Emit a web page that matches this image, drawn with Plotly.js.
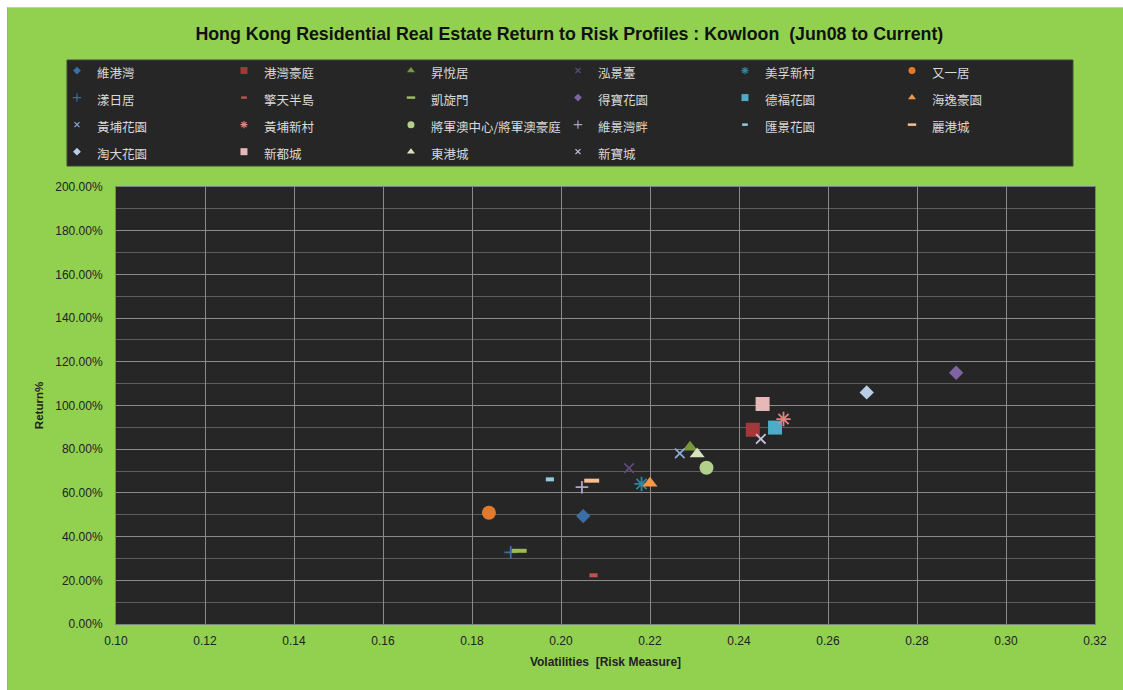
<!DOCTYPE html>
<html>
<head>
<meta charset="utf-8">
<script src="https://cdn.plot.ly/plotly-3.0.1.min.js"></script>
<style>
  html, body { margin: 0; padding: 0; background: #ffffff; }
  #wrap { position: absolute; left: 7px; top: 7px; width: 1116px; height: 683px;
          border-left: 1px solid #a6a6a6; border-top: 1px solid #c8c8c8; }
  #chart { width: 1116px; height: 683px; }
</style>
</head>
<body>
<div id="wrap"><div id="chart"></div></div>
<script>
// ---- data ----
var estates = ["維港灣","港灣豪庭","昇悅居","泓景臺","美孚新村","又一居",
               "漾日居","擎天半島","凱旋門","得寶花園","德福花園","海逸豪園",
               "黃埔花園","黃埔新村","將軍澳中心/將軍澳豪庭","維景灣畔","匯景花園","麗港城",
               "淘大花園","新都城","東港城","新寶城"];
var volatility = [0.2050,0.2431,0.2290,0.2153,0.2181,0.1838,
                  0.1887,0.2073,0.1906,0.2888,0.2481,0.2200,
                  0.2267,0.2500,0.2327,0.2047,0.1975,0.2069,
                  0.2687,0.2453,0.2306,0.2449];
var returns = [0.494,0.889,0.809,0.713,0.641,0.509,
               0.328,0.223,0.335,1.150,0.899,0.644,
               0.781,0.938,0.715,0.626,0.662,0.656,
               1.060,1.007,0.778,0.847];
var xTicks = [0.10,0.12,0.14,0.16,0.18,0.20,0.22,0.24,0.26,0.28,0.30,0.32];
var yTicks = [0,0.2,0.4,0.6,0.8,1.0,1.2,1.4,1.6,1.8,2.0];

// ---- styles ----
var colors = ["#3b6ea5","#a5373a","#77983c","#604a7b","#31859c","#e07a2c",
              "#3b6ea5","#c0504d","#9bbb59","#8064a2","#4bacc6","#f79646",
              "#8da9db","#e0827e","#b3d08b","#b3a2c7","#93cddd","#fabf8f",
              "#b9cde5","#e6b9b8","#d7e4bd","#ccc1da"];
var symbols = ["diamond","square","triangle-up","x-thin-open","asterisk-open","circle",
               "cross-thin-open","line-ew-open","line-ew-open","diamond","square","triangle-up",
               "x-thin-open","asterisk-open","circle","cross-thin-open","line-ew-open","line-ew-open",
               "diamond","square","triangle-up","x-thin-open"];
var sizes = [11,14,13,9.5,12,14, 9,5.8,10.7,11,14,13, 9.5,12,14,9,5.8,10.7, 11,14,13,9.5];
var legSizes = [6,7,7,5,6,7, 6,4,6,6,7,7, 5,6,7,6,4,6, 6,7,7,5];

function isOpen(s){ return s.indexOf("open") >= 0; }
function lineW(s){ return s.indexOf("line-ew") === 0 ? 4 : (isOpen(s) ? 1.8 : 0); }
function legLineW(s){ return s.indexOf("line-ew") === 0 ? 2.5 : (isOpen(s) ? 1.2 : 0); }

var traces = [];
// legend entries (small markers, no data drawn)
estates.forEach(function(n, i){
  traces.push({
    type: "scatter", mode: "markers", x: [null], y: [null],
    name: '<span style="font-size:12.5px">' + n + '</span>',
    legendgroup: "g" + i, showlegend: true, hoverinfo: "skip",
    marker: { symbol: symbols[i], size: legSizes[i], color: colors[i],
              line: { color: colors[i], width: legLineW(symbols[i]) } }
  });
});
// data points
estates.forEach(function(n, i){
  traces.push({
    type: "scatter", mode: "markers", x: [volatility[i]], y: [returns[i]],
    name: n, legendgroup: "g" + i, showlegend: false,
    marker: { symbol: symbols[i], size: sizes[i], color: colors[i],
              line: { color: colors[i], width: lineW(symbols[i]) } },
    hovertemplate: n + "<br>%{x:.3f}, %{y:.2%}<extra></extra>"
  });
});

var tickFont = { family: "Liberation Sans, Arial, sans-serif", size: 12, color: "#222222" };
var layout = {
  width: 1116, height: 683,
  paper_bgcolor: "#92d050", plot_bgcolor: "#262626",
  margin: { l: 108, r: 29, t: 179, b: 67, autoexpand: false },
  showlegend: true,
  title: { text: "Hong Kong Residential Real Estate Return to Risk Profiles : Kowloon&nbsp;&nbsp;(Jun08 to Current)",
           font: { family: "Liberation Sans, Arial, sans-serif", size: 17.8, color: "#111111", weight: "bold" },
           xref: "container", yref: "container", x: 0.503, xanchor: "center", y: 0.962, yanchor: "middle" },
  shapes: [{
    type: "rect", xref: "paper", yref: "paper", layer: "below",
    x0: -0.05005, x1: 0.9775, y0: 1.048, y1: 1.2906,
    fillcolor: "#262626", line: { color: "#3f4a34", width: 1 }
  }],
  legend: {
    orientation: "h", x: -0.0603, xanchor: "left", y: 1.3089, yanchor: "top",
    bgcolor: "rgba(0,0,0,0)", borderwidth: 0,
    font: { family: "Noto Sans CJK TC, sans-serif", size: 18.5, color: "#d9d9d9" },
    entrywidth: 122, itemclick: false, itemdoubleclick: false, traceorder: "normal"
  },
  xaxis: {
    range: [0.10, 0.32], tickvals: xTicks, tickformat: ".2f",
    showgrid: true, gridcolor: "#8a8a8a", gridwidth: 1, zeroline: false,
    showline: true, linecolor: "#7f7f7f", mirror: true,
    ticks: "outside", ticklen: 6, tickcolor: "rgba(0,0,0,0)", tickfont: tickFont,
    title: { text: "<b>Volatilities&nbsp;&nbsp;[Risk Measure]</b>", standoff: 10,
             font: { family: "Liberation Sans Narrow, Liberation Sans, sans-serif", size: 12, color: "#222222" } }
  },
  yaxis: {
    range: [0, 2.0], tickvals: yTicks, tickformat: ".2%",
    showgrid: true, gridcolor: "#8a8a8a", gridwidth: 1, zeroline: false,
    minor: { dtick: 0.1, showgrid: true, gridcolor: "#5e5e5e", gridwidth: 1 },
    showline: true, linecolor: "#7f7f7f", mirror: true,
    ticks: "outside", ticklen: 10, tickcolor: "rgba(0,0,0,0)", tickfont: tickFont,
    title: { text: "<b>Return%</b>", standoff: 9,
             font: { family: "Liberation Sans Narrow, Liberation Sans, sans-serif", size: 11.5, color: "#222222" } }
  }
};

Plotly.newPlot("chart", traces, layout, { displayModeBar: false, staticPlot: false });
</script>
</body>
</html>
